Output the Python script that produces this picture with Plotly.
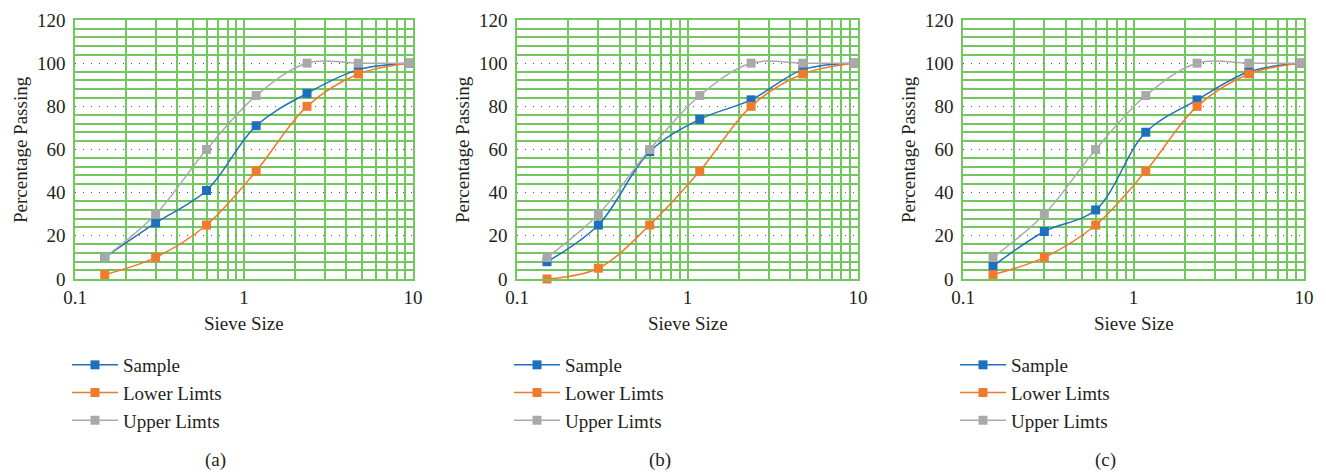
import plotly.graph_objects as go

# ---------------- data ----------------
sieve_size = [0.15, 0.3, 0.6, 1.18, 2.36, 4.75, 9.5]

sample_a = [10, 26, 41, 71, 86, 97, 100]
lower_a = [2, 10, 25, 50, 80, 95, 100]
upper_a = [10, 30, 60, 85, 100, 100, 100]

sample_b = [8, 25, 59, 74, 83, 97, 100]
lower_b = [0, 5, 25, 50, 80, 95, 100]
upper_b = [10, 30, 60, 85, 100, 100, 100]

sample_c = [6, 22, 32, 68, 83, 96, 100]
lower_c = [2, 10, 25, 50, 80, 95, 100]
upper_c = [10, 30, 60, 85, 100, 100, 100]

series_names = ["Sample", "Lower Limts", "Upper Limts"]
panel_labels = ["(a)", "(b)", "(c)"]
x_tickvals = [0.1, 0.2, 0.3, 0.4, 0.5, 0.6, 0.7, 0.8, 0.9,
              1, 2, 3, 4, 5, 6, 7, 8, 9, 10]
x_ticktext = ["0.1", "", "", "", "", "", "", "", "",
              "1", "", "", "", "", "", "", "", "", "10"]
y_range = [0, 120]

# ---------------- style ----------------
W, H = 1326, 473
FONT = "Liberation Serif, serif"
TXT = "#231f20"
GREEN = "#72c75f"
COLORS = ["#1f6fbf", "#f07b2c", "#a9a9ab"]

panels = [
    (sample_a, lower_a, upper_a),
    (sample_b, lower_b, upper_b),
    (sample_c, lower_c, upper_c),
]
plot_left = [75, 517, 963]
plot_right = [413, 858, 1304]
plot_top, plot_bottom = 20, 279
label_x = [215, 660, 1105]

fig = go.Figure()
for i, series in enumerate(panels):
    xa = "x" if i == 0 else f"x{i+1}"
    ya = "y" if i == 0 else f"y{i+1}"
    lg = "legend" if i == 0 else f"legend{i+1}"
    for name, vals, col in zip(series_names, series, COLORS):
        fig.add_trace(go.Scatter(
            x=sieve_size, y=vals, name=name, mode="lines+markers",
            line=dict(color=col, width=1.5, shape="spline", smoothing=1),
            marker=dict(symbol="square", size=9, color=col),
            xaxis=xa, yaxis=ya, legend=lg, cliponaxis=False,
        ))

layout = dict(
    width=W, height=H, margin=dict(l=0, r=0, t=0, b=0, autoexpand=False),
    paper_bgcolor="white", plot_bgcolor="white",
    font=dict(family=FONT, size=19, color=TXT),
    showlegend=True,
)
annotations = []
for i in range(3):
    sx = "" if i == 0 else str(i + 1)
    x0, x1 = plot_left[i] / W, plot_right[i] / W
    y0, y1 = 1 - plot_bottom / H, 1 - plot_top / H
    layout[f"xaxis{sx}"] = dict(
        type="log", range=[-1, 1], domain=[x0, x1],
        anchor=f"y{sx}", automargin=False,
        tickvals=x_tickvals, ticktext=x_ticktext,
        showgrid=True, gridcolor=GREEN, gridwidth=1.5,
        showline=True, linecolor=GREEN, linewidth=1.5, mirror=True,
        ticks="", ticklabelstandoff=0, zeroline=False,
        tickfont=dict(family=FONT, size=19, color=TXT),
    )
    layout[f"yaxis{sx}"] = dict(
        range=y_range, domain=[y0, y1], anchor=f"x{sx}", automargin=False,
        dtick=20, tick0=0,
        showgrid=True, gridcolor="#555555", gridwidth=1, griddash="1px,7px",
        minor=dict(dtick=4, tick0=0, showgrid=True, gridcolor=GREEN,
                   gridwidth=1.5, griddash="solid"),
        showline=True, linecolor=GREEN, linewidth=1.5, mirror=True,
        ticks="", ticklabelstandoff=4, zeroline=False,
        tickfont=dict(family=FONT, size=19, color=TXT),
    )
    lkey = "legend" if i == 0 else f"legend{i+1}"
    layout[lkey] = dict(
        x=(plot_left[i] - 8) / W, xanchor="left",
        y=1 - 346 / H, yanchor="top",
        bgcolor="rgba(0,0,0,0)", borderwidth=0,
        font=dict(family=FONT, size=19, color=TXT),
        tracegroupgap=0, itemwidth=46,
    )
    cx = (plot_left[i] + plot_right[i]) / 2 / W
    annotations.append(dict(text="Sieve Size", x=cx, y=1 - 323 / H,
                            xref="paper", yref="paper", showarrow=False,
                            xanchor="center", yanchor="middle",
                            font=dict(family=FONT, size=19, color=TXT)))
    annotations.append(dict(text="Percentage Passing",
                            x=(plot_left[i] - 55) / W, y=1 - 150 / H,
                            xref="paper", yref="paper", showarrow=False,
                            textangle=-90, xanchor="center", yanchor="middle",
                            font=dict(family=FONT, size=19, color=TXT)))
    annotations.append(dict(text=panel_labels[i], x=label_x[i] / W, y=1 - 460 / H,
                            xref="paper", yref="paper", showarrow=False,
                            xanchor="center", yanchor="middle",
                            font=dict(family=FONT, size=19, color=TXT)))
layout["annotations"] = annotations
fig.update_layout(**layout)

fig.write_html("out.html",
               config={"displayModeBar": False},
               post_script="document.body.style.margin='0';"
                           "document.body.style.overflow='hidden';")
